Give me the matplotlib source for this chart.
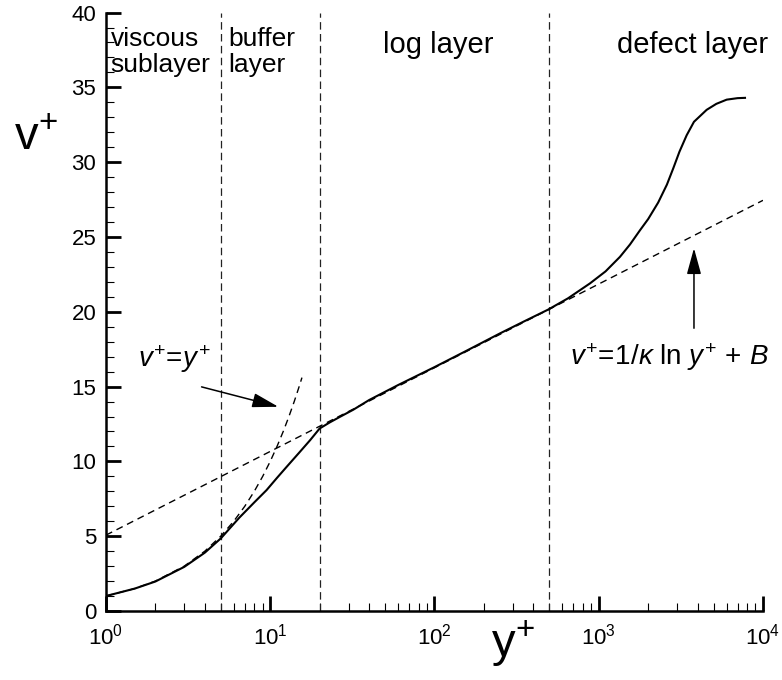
import matplotlib
matplotlib.use("Agg")
import matplotlib.pyplot as plt
from matplotlib.ticker import MultipleLocator, LogLocator

plt.rcParams['font.family'] = ['Liberation Sans', 'DejaVu Sans']
plt.rcParams['mathtext.fontset'] = 'custom'
plt.rcParams['mathtext.rm'] = 'Liberation Sans'
plt.rcParams['mathtext.it'] = 'Liberation Sans:italic'
plt.rcParams['mathtext.bf'] = 'Liberation Sans:bold'

# ---- velocity profile (wall units) ----
y_plus = [1, 1.5, 2, 3, 4, 5, 6.5, 8, 9.5, 11, 12.6, 15, 17.5, 20, 23, 26.6,
          32, 40, 60, 100, 157, 250, 350, 493, 650, 885, 1100, 1346, 1550,
          1783, 2000, 2300, 2600, 2845, 3100, 3430, 3800, 4540, 5200, 6010,
          7000, 7770]
v_plus = [1.0, 1.5, 1.97, 2.95, 3.9, 4.85, 6.25, 7.26, 8.08, 8.9, 9.64, 10.58,
          11.42, 12.2, 12.6, 12.98, 13.45, 14.1, 15.1, 16.3, 17.4, 18.55,
          19.35, 20.15, 20.9, 21.9, 22.7, 23.67, 24.5, 25.45, 26.2, 27.3,
          28.5, 29.6, 30.7, 31.8, 32.7, 33.5, 33.9, 34.18, 34.28, 34.3]

# linear sublayer v+ = y+
lin_y = [1, 1.5, 2, 3, 4, 5, 6, 7, 8, 9, 10, 11, 12, 13, 14, 15, 15.6]
lin_v = [1, 1.5, 2, 3, 4, 5, 6, 7, 8, 9, 10, 11, 12, 13, 14, 15, 15.6]

# log law, straight on a log axis
log_y = [1, 1e4]
log_v = [5.07, 27.45]

# region boundaries
bounds = [5, 20, 500]

fig = plt.figure(figsize=(7.82, 6.8), dpi=100)
ax = fig.add_axes([0.1355, 0.1015, 0.8402, 0.880])

for b in bounds:
    ax.plot([b, b], [0, 40], color='#222222', lw=0.9, ls=(0, (6, 3.5)))

ax.plot(lin_y, lin_v, color='black', lw=1.0, ls=(0, (5, 3.5)))
ax.plot(log_y, log_v, color='black', lw=1.0, ls=(0, (5, 3.5)))
ax.plot(y_plus, v_plus, color='black', lw=1.5)

ax.set_xscale('log')
ax.set_xlim(1, 1e4)
ax.set_ylim(0, 40)
ax.yaxis.set_major_locator(MultipleLocator(5))
ax.yaxis.set_minor_locator(MultipleLocator(1))
ax.xaxis.set_minor_locator(LogLocator(base=10, subs=range(2, 10)))

for s in ['top', 'right']:
    ax.spines[s].set_visible(False)
for s in ['left', 'bottom']:
    ax.spines[s].set_linewidth(1.8)

ax.tick_params(which='major', direction='in', length=10.5, width=2,
               labelsize=16, pad=7, top=False, right=False)
ax.tick_params(which='minor', direction='in', length=6, width=0.8,
               top=False, right=False)
ax.tick_params(axis='x', which='major', pad=9)

# axis titles
ax.text(-0.14, 0.77, r'v$^{+}$', transform=ax.transAxes, fontsize=34,
        ha='left', va='baseline')
ax.text(0.62, -0.077, r'y$^{+}$', transform=ax.transAxes, fontsize=34,
        ha='center', va='baseline')

# region names (baseline of the last line)
ax.text(1.07, 36.0, 'viscous\nsublayer', fontsize=19, ha='left', va='baseline',
        linespacing=1.15)
ax.text(5.55, 36.0, 'buffer\nlayer', fontsize=19, ha='left', va='baseline',
        linespacing=1.15)
ax.text(105, 37.3, 'log layer', fontsize=21, ha='center', va='baseline')
ax.text(3700, 37.3, 'defect layer', fontsize=21, ha='center', va='baseline')

# formula labels with arrows
ax.text(2.6, 16.3, r'$\mathit{v}^{+}\!=\!\mathit{y}^{+}$', fontsize=20,
        ha='center', va='baseline')
ax.annotate('', xy=(11.2, 13.65), xytext=(3.82, 14.98),
            arrowprops=dict(arrowstyle='-|>,head_length=0.8,head_width=0.22',
                            color='black', lw=1.1, mutation_scale=20,
                            shrinkA=0, shrinkB=0))
ax.text(2700, 16.45,
        r'$\mathit{v}^{+}\!=\!\mathit{1/\kappa}\ \mathrm{ln}\ \mathit{y}^{+}\,+\,\mathit{B}$',
        fontsize=20, ha='center', va='baseline')
ax.annotate('', xy=(3800, 24.25), xytext=(3800, 18.9),
            arrowprops=dict(arrowstyle='-|>,head_length=0.8,head_width=0.22',
                            color='black', lw=1.1, mutation_scale=20,
                            shrinkA=0, shrinkB=0))

fig.savefig('out.png', dpi=100)
